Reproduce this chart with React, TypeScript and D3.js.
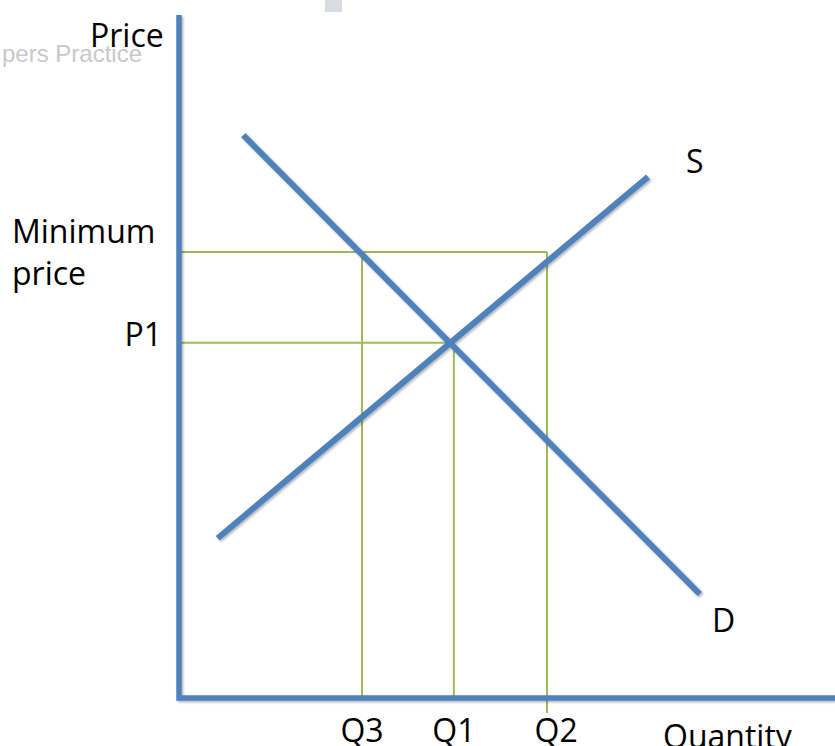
import React from "react";
import * as d3 from "d3";

const W = 835;
const H = 746;

// Data in abstract units (quantity 0..100, price 0..100)
const supply: [number, number][] = [
  [5.9, 23.4],
  [71.5, 76.3],
];
const demand: [number, number][] = [
  [9.8, 82.4],
  [79.4, 15.2],
];
const minimumPrice = 65.3;
const p1 = 52.0;
const quantities = { Q3: 27.9, Q1: 41.9, Q2: 56.1 };
const qLabels = ["Q3", "Q1", "Q2"];
const qLabelX = [27.9, 41.9, 57.5];

const BLUE = "#4F81BD";
const GREEN = "#9BBB59";
const FONT = "'Open Sans', 'Noto Sans', sans-serif";

export default function App() {
  const x = d3.scaleLinear().domain([0, 100]).range([179, 835]);
  const y = d3.scaleLinear().domain([0, 100]).range([698, 15]);
  const line = d3
    .line<[number, number]>()
    .x((d) => x(d[0]))
    .y((d) => y(d[1]));

  const axisPath = line([
    [0, 100],
    [0, 0],
    [100, 0],
  ] as [number, number][]);

  const minPath = line([
    [0, minimumPrice],
    [quantities.Q2, minimumPrice],
  ] as [number, number][]);
  const q2Path = `M${x(quantities.Q2)},${y(minimumPrice)}L${x(quantities.Q2)},${y(0) + 15}`;
  const q3Path = line([
    [quantities.Q3, minimumPrice],
    [quantities.Q3, 0],
  ] as [number, number][]);
  const p1Path = line([
    [0, p1],
    [quantities.Q1, p1],
    [quantities.Q1, 0],
  ] as [number, number][]);

  return (
    <svg
      width={W}
      height={H}
      style={{ position: "absolute", left: 0, top: 0, background: "#fff" }}
    >
      <defs>
        <filter id="sh" x="-10%" y="-10%" width="120%" height="120%">
          <feDropShadow dx="1.5" dy="1.5" stdDeviation="1" floodColor="#000" floodOpacity="0.3" />
        </filter>
      </defs>
      <rect x={325} y={0} width={17} height={12} fill="#d9dce1" />
      <text x={2} y={62} fontFamily="'Liberation Sans', Arial, sans-serif" fontSize={24} fill="#c9c9c9">
        pers Practice
      </text>

      {/* green guide lines */}
      <g fill="none" stroke={GREEN} strokeWidth={2}>
        <path d={minPath ?? ""} />
        <path d={q2Path} />
        <path d={q3Path ?? ""} />
        <path d={p1Path ?? ""} />
      </g>

      {/* curves */}
      <g fill="none" stroke={BLUE} strokeWidth={6} filter="url(#sh)">
        <path d={line(supply) ?? ""} />
        <path d={line(demand) ?? ""} />
      </g>

      {/* axes */}
      <path
        d={axisPath ?? ""}
        fill="none"
        stroke={BLUE}
        strokeWidth={5.5}
        strokeLinejoin="miter"
        filter="url(#sh)"
      />

      <g fontFamily={FONT} fontSize={32} fill="#000">
        <text x={90} y={47}>Price</text>
        <text x={12} y={243}>Minimum</text>
        <text x={12} y={285}>price</text>
        <text x={162} y={346} textAnchor="end">P1</text>
        <text x={686} y={173}>S</text>
        <text x={712} y={632}>D</text>
        {qLabels.map((q, i) => (
          <text key={q} x={x(qLabelX[i])} y={742} textAnchor="middle">
            {q}
          </text>
        ))}
        <text x={663} y={748}>Quantity</text>
      </g>
    </svg>
  );
}
